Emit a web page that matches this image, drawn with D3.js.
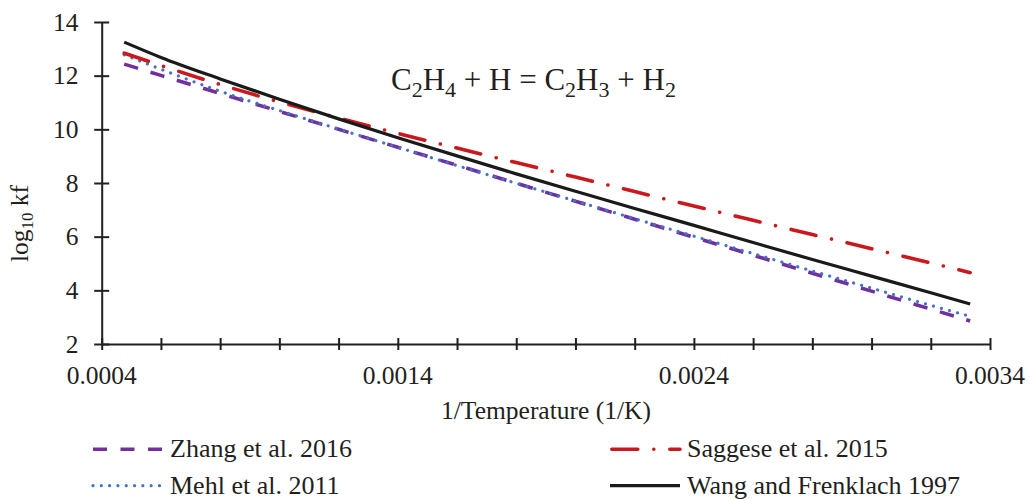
<!DOCTYPE html>
<html>
<head>
<meta charset="utf-8">
<script src="https://cdn.jsdelivr.net/npm/d3@7"></script>
<style>
  html, body { margin: 0; padding: 0; background: #fff; }
  svg { display: block; }
  svg text { font-family: "Liberation Serif", "Times New Roman", serif; fill: #231f20; }
</style>
</head>
<body>
<svg id="chart" width="1030" height="499"></svg>
<script>
// Inverse temperature grid (1/K), 2100 K down to 300 K
const invT = [0.000476, 0.0006, 0.0008, 0.0010, 0.0012, 0.0014, 0.0016, 0.0018,
              0.0020, 0.0022, 0.0024, 0.0026, 0.0028, 0.0030, 0.0032, 0.003333];

// log10 of the forward rate constant for C2H4 + H = C2H3 + H2
const zhang2016   = [12.43, 12.01, 11.34, 10.67, 10.00, 9.33, 8.66, 7.99, 7.32, 6.65, 5.98, 5.31, 4.64, 3.97, 3.30, 2.86];
const mehl2011    = [12.78, 12.24, 11.42, 10.70, 10.01, 9.33, 8.65, 7.99, 7.33, 6.67, 6.02, 5.37, 4.72, 4.08, 3.44, 3.03];
const saggese2015 = [12.84, 12.38, 11.67, 11.02, 10.42, 9.85, 9.30, 8.76, 8.22, 7.68, 7.14, 6.61, 6.08, 5.55, 5.02, 4.66];
const wang1997    = [13.25, 12.68, 11.88, 11.12, 10.39, 9.69, 9.01, 8.34, 7.69, 7.05, 6.42, 5.78, 5.15, 4.53, 3.91, 3.49];

const seriesNames = ["Zhang et al. 2016", "Saggese et al. 2015", "Mehl et al. 2011", "Wang and Frenklach 1997"];

const xTicks = d3.range(0, 16).map(i => (4 + 2 * i) / 10000);
const xLabelTicks = [0.0004, 0.0014, 0.0024, 0.0034];
const yTicks = [2, 4, 6, 8, 10, 12, 14];

const ink = "#231f20";
const serif = "'Liberation Serif', 'Times New Roman', serif";
const svg = d3.select("#chart");

const x = d3.scaleLinear().domain([0.0004, 0.0034]).range([101.7, 990]);
const y = d3.scaleLinear().domain([2, 14]).range([344, 22]);

// line styles: purple dashes, red long dash-dot, blue round dots, solid black
const styles = {
  zhang:   { color: "#7030a0", width: 3.6, dash: "14.5 13", cap: "butt" },
  saggese: { color: "#c9191e", width: 3.6, dash: "25.5 16 0.01 16", cap: "round" },
  mehl:    { color: "#4472c4", width: 3.2, dash: "0.01 8.3", cap: "round" },
  wang:    { color: "#1a1a1a", width: 3.2, dash: null, cap: "butt" }
};

const series = [
  { key: "zhang", values: zhang2016 },
  { key: "mehl", values: mehl2011 },
  { key: "saggese", values: saggese2015 },
  { key: "wang", values: wang1997 }
];

const line = d3.line()
  .x(d => x(d[0]))
  .y(d => y(d[1]))
  .curve(d3.curveMonotoneX);

// x axis with ticks crossing the line
const xAxis = svg.append("g")
  .attr("transform", `translate(0,${y(2)})`)
  .call(d3.axisBottom(x).tickValues(xTicks).tickSizeOuter(0).tickFormat(""));
xAxis.select(".domain").attr("stroke", ink).attr("stroke-width", 2);
xAxis.selectAll(".tick line").attr("stroke", ink).attr("stroke-width", 2).attr("y1", -6).attr("y2", 6);

svg.append("g").selectAll("text")
  .data(xLabelTicks)
  .join("text")
  .attr("x", d => x(d))
  .attr("y", 383.5)
  .attr("text-anchor", "middle")
  .attr("font-family", serif)
  .attr("font-size", 25.5)
  .text(d => d3.format(".4f")(d));

// y axis
const yAxis = svg.append("g")
  .attr("transform", `translate(${x(0.0004)},0)`)
  .call(d3.axisLeft(y).tickValues(yTicks).tickSizeOuter(0).tickFormat(""));
yAxis.select(".domain").attr("stroke", ink).attr("stroke-width", 2);
yAxis.selectAll(".tick line").attr("stroke", ink).attr("stroke-width", 2).attr("x1", -7.5).attr("x2", 7.5);

svg.append("g").selectAll("text")
  .data(yTicks)
  .join("text")
  .attr("x", 78.5)
  .attr("y", d => y(d) + 8.5)
  .attr("text-anchor", "end")
  .attr("font-family", serif)
  .attr("font-size", 25.5)
  .text(d => d);

// data lines
svg.append("g").selectAll("path")
  .data(series)
  .join("path")
  .attr("fill", "none")
  .attr("stroke", d => styles[d.key].color)
  .attr("stroke-width", d => styles[d.key].width)
  .attr("stroke-dasharray", d => styles[d.key].dash)
  .attr("stroke-linecap", d => styles[d.key].cap)
  .attr("d", d => line(invT.map((v, i) => [v, d.values[i]])));

// reaction label
const title = svg.append("text")
  .attr("x", 391)
  .attr("y", 89.5)
  .attr("font-family", serif)
  .attr("font-size", 31);
const sub = (t) => title.append("tspan").attr("font-size", 22).attr("dy", 7).text(t);
const main = (t) => title.append("tspan").attr("dy", -7).text(t);
title.append("tspan").text("C");
sub("2"); main("H"); sub("4"); main(" + H = C"); sub("2"); main("H"); sub("3"); main(" + H"); sub("2");

// axis titles
svg.append("text")
  .attr("x", 546)
  .attr("y", 419)
  .attr("text-anchor", "middle")
  .attr("font-family", serif)
  .attr("font-size", 25.5)
  .text("1/Temperature (1/K)");

const yTitle = svg.append("text")
  .attr("transform", "translate(28,223.5) rotate(-90)")
  .attr("text-anchor", "middle")
  .attr("font-family", serif)
  .attr("font-size", 25.5);
yTitle.append("tspan").text("log");
yTitle.append("tspan").attr("font-size", 17).attr("dy", 5).text("10");
yTitle.append("tspan").attr("dy", -5).text(" kf");

// legend
const legendItems = [
  { key: "zhang",   name: seriesNames[0], x: 93,  y: 449.3 },
  { key: "saggese", name: seriesNames[1], x: 610, y: 449.3 },
  { key: "mehl",    name: seriesNames[2], x: 93,  y: 485.7 },
  { key: "wang",    name: seriesNames[3], x: 610, y: 485.7 }
];
const legend = svg.append("g").selectAll("g")
  .data(legendItems)
  .join("g")
  .attr("transform", d => `translate(${d.x},${d.y})`);
legend.append("line")
  .attr("x1", d => d.key === "saggese" ? 1.8 : 0)
  .attr("x2", 70)
  .attr("stroke", d => styles[d.key].color)
  .attr("stroke-width", d => styles[d.key].width)
  .attr("stroke-dasharray", d => d.key === "saggese" ? "26 16 0.01 16" : d.key === "zhang" ? "14 13.5" : styles[d.key].dash)
  .attr("stroke-linecap", d => styles[d.key].cap);
legend.append("text")
  .attr("x", 77)
  .attr("y", 8)
  .attr("font-family", serif)
  .attr("font-size", 26)
  .text(d => d.name);
</script>
</body>
</html>
